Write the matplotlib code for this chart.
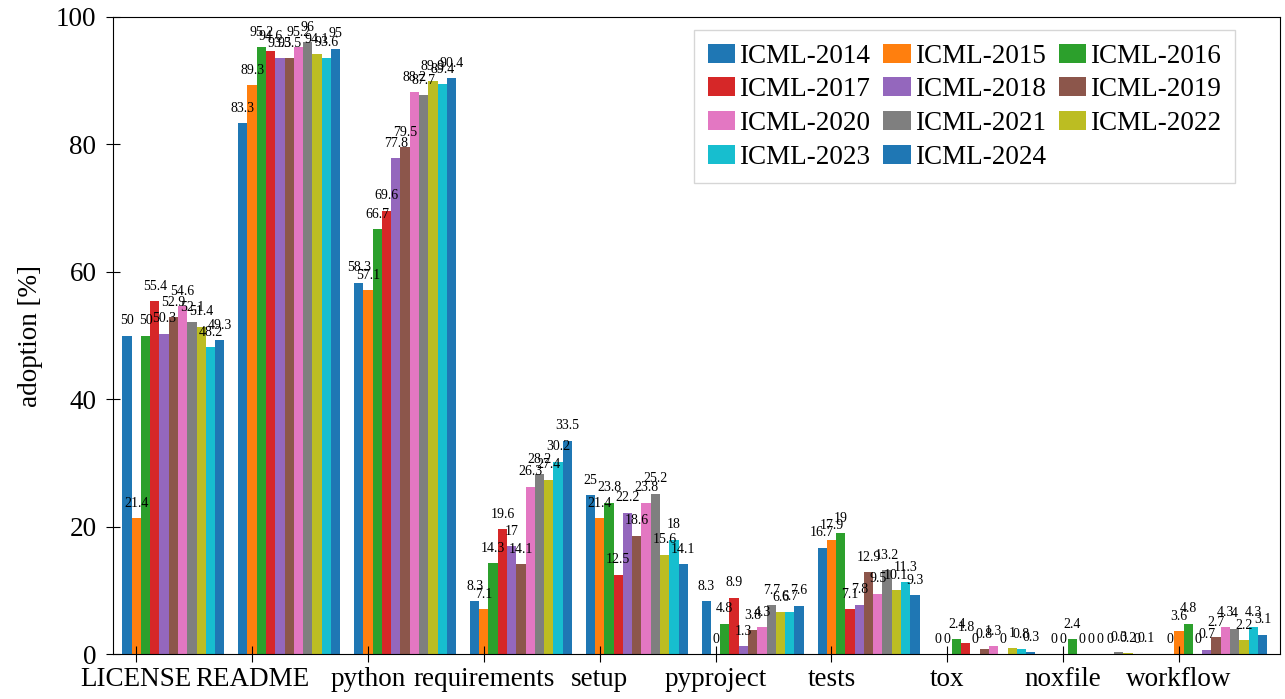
import numpy as np
import matplotlib.pyplot as plt

plt.rcParams['font.family'] = ['Liberation Serif', 'DejaVu Serif']

categories = ['LICENSE', 'README', 'python', 'requirements', 'setup',
              'pyproject', 'tests', 'tox', 'noxfile', 'workflow']
years = ['ICML-2014', 'ICML-2015', 'ICML-2016', 'ICML-2017', 'ICML-2018', 'ICML-2019',
         'ICML-2020', 'ICML-2021', 'ICML-2022', 'ICML-2023', 'ICML-2024']

# adoption [%] per category, one list per year
icml_2014 = [50, 83.3, 58.3, 8.3, 25, 8.3, 16.7, 0, 0, 0]
icml_2015 = [21.4, 89.3, 57.1, 7.1, 21.4, 0, 17.9, 0, 0, 3.6]
icml_2016 = [50, 95.2, 66.7, 14.3, 23.8, 4.8, 19, 2.4, 2.4, 4.8]
icml_2017 = [55.4, 94.6, 69.6, 19.6, 12.5, 8.9, 7.1, 1.8, 0, 0]
icml_2018 = [50.3, 93.5, 77.8, 17, 22.2, 1.3, 7.8, 0, 0, 0.7]
icml_2019 = [52.9, 93.5, 79.5, 14.1, 18.6, 3.8, 12.9, 0.8, 0, 2.7]
icml_2020 = [54.6, 95.2, 88.2, 26.3, 23.8, 4.3, 9.5, 1.3, 0, 4.3]
icml_2021 = [52.1, 96, 87.7, 28.2, 25.2, 7.7, 13.2, 0, 0.3, 4]
icml_2022 = [51.4, 94.1, 89.9, 27.4, 15.6, 6.6, 10.1, 1, 0.2, 2.2]
icml_2023 = [48.2, 93.6, 89.4, 30.2, 18, 6.7, 11.3, 0.8, 0, 4.3]
icml_2024 = [49.3, 95, 90.4, 33.5, 14.1, 7.6, 9.3, 0.3, 0.1, 3.1]

series = [icml_2014, icml_2015, icml_2016, icml_2017, icml_2018, icml_2019,
          icml_2020, icml_2021, icml_2022, icml_2023, icml_2024]

colors = plt.rcParams['axes.prop_cycle'].by_key()['color']

fig = plt.figure(figsize=(12.85, 6.99), dpi=100)
ax = fig.add_axes([0.088, 0.064, 0.908, 0.912])

x = np.arange(len(categories))
w = 0.08
handles = []
for j, vals in enumerate(series):
    b = ax.bar(x + (j - 1) * w, vals, w, color=colors[j % 10], label=years[j])
    ax.bar_label(b, fmt='%g', fontsize=10, padding=6)
    handles.append(b)

ax.set_xticks(x)
ax.set_xticklabels(categories, fontsize=19.5)
ax.set_ylim(0, 100)
ax.set_xlim(-0.2, 9.87)
ax.set_yticks([0, 20, 40, 60, 80, 100])
ax.tick_params(axis='y', labelsize=19.5, direction='inout', length=10, pad=7)
ax.tick_params(axis='x', direction='inout', length=12)
ax.set_ylabel('adoption [%]', fontsize=19.5)
ax.yaxis.set_label_coords(-0.06, 0.5)

order = [0, 3, 6, 9, 1, 4, 7, 10, 2, 5, 8]
ax.legend([handles[i] for i in order], [years[i] for i in order], ncol=3,
          loc='upper right', bbox_to_anchor=(0.9615, 0.979), borderaxespad=0,
          fontsize=19.5, fancybox=False, handlelength=1.0, handletextpad=0.15,
          columnspacing=0.5, labelspacing=0.32, borderpad=0.5)

fig.savefig('out.png')
